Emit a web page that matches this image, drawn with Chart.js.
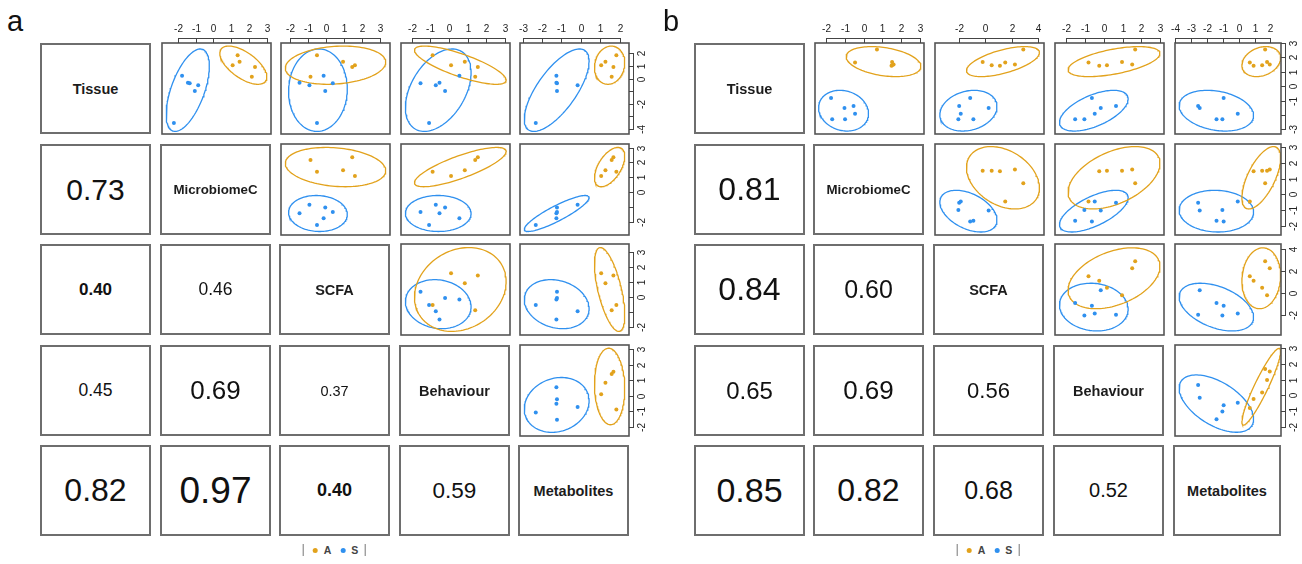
<!DOCTYPE html>
<html>
<head>
<meta charset="utf-8">
<title>Block component plots</title>
<script src="https://cdn.jsdelivr.net/npm/chart.js@4.4.1/dist/chart.umd.min.js"></script>
<style>
    html, body { margin: 0; padding: 0; background: #fff; }
    body {
        position: relative; width: 1302px; height: 564px; overflow: hidden;
        font-family: "Liberation Sans", Arial, Helvetica, sans-serif; color: #111;
    }
    .cell {
        position: absolute; box-sizing: border-box; border: 2px solid #6e6e6e;
        display: flex; align-items: center; justify-content: center;
    }
    .diag { font-weight: bold; font-size: 14.5px; color: #1c1c1c; }
    canvas { position: absolute; }
    .tag { position: absolute; font-size: 29px; line-height: 29px; color: #111; }
    .legend {
        position: absolute; height: 14px; display: flex; align-items: center;
        font-size: 10.5px; font-weight: bold; color: #444; transform: translateX(-50%);
    }
    .legend .bar { width: 1px; height: 12px; background: #777; }
    .legend .dot { width: 5px; height: 5px; border-radius: 50%; margin: 0 6px 0 9px; }
</style>
</head>
<body>
<script>
const blocks = ["Tissue", "MicrobiomeC", "SCFA", "Behaviour", "Metabolites"];
const groups = ["A", "S"];
const groupColors = ["#e2a21c", "#2f90ef"];

// panel a: component 1 of each block, group A (5 samples) and group S (6 samples)
const aTissueA = [1.85, 1.35, 1.06, 0.93, 0.16];
const aMicroA = [1.36, 1.47, 1.08, 2.34, 2.16];
const aScfaA = [-0.50, 0.95, 1.61, 1.46, -0.86];
const aBehavA = [-0.88, 0.85, 0.11, 1.55, 1.41];
const aMetabA = [1.82, 1.26, 1.04, 1.67, 1.58];
const aTissueS = [0.24, -0.32, -0.37, -0.53, -0.98, -3.52];
const aMicroS = [-1.77, -1.44, -1.34, -0.86, -1.05, -2.23];
const aScfaS = [-0.13, -1.47, 0.38, -0.92, -0.04, -0.50];
const aBehavS = [0.56, -0.51, -1.53, -0.71, -0.21, -1.07];
const aMetabS = [-1.26, -1.26, -1.23, -0.17, -1.23, -2.32];

// panel b
const bTissueA = [2.55, 1.67, 1.46, 1.41, 1.64, 1.50];
const bMicroA = [0.71, 1.51, 1.51, 1.48, -0.45, 1.59];
const bScfaA = [2.87, -0.19, 0.49, 1.11, 1.51, 2.24];
const bBehavA = [1.67, 0.97, 0.17, -0.24, -0.81, 1.51];
const bMetabA = [1.67, 1.79, 1.48, 0.94, 0.70, 1.96];
const bTissueS = [-0.82, -1.38, -1.53, -1.92, -2.30, -2.30];
const bMicroS = [-1.72, -0.53, -1.01, -0.45, -0.98, -1.66];
const bScfaS = [-1.13, -1.96, 0.26, -1.84, -2.02, -0.89];
const bBehavS = [-0.63, 0.65, -0.16, -0.48, -1.03, -1.52];
const bMetabS = [-0.95, -2.56, -2.46, -0.06, -1.03, -1.40];

// correlations, lower triangle read row by row
const aCor = [0.73, 0.40, 0.46, 0.45, 0.69, 0.37, 0.82, 0.97, 0.40, 0.59];
const bCor = [0.81, 0.84, 0.60, 0.65, 0.69, 0.56, 0.85, 0.82, 0.68, 0.52];

// axis limits and ticks per block
const aLimits = [[-4.39, 2.83], [-2.9, 3.24], [-2.5, 3.56], [-2.58, 3.28], [-3.13, 2.47]];
const bLimits = [[-3.33, 3.0], [-2.57, 3.2], [-3.78, 4.43], [-2.59, 3.2], [-4.02, 2.67]];
const aTicks = [[-4, -3, -2, -1, 0, 1, 2], [-2, -1, 0, 1, 2, 3], [-2, -1, 0, 1, 2, 3], [-2, -1, 0, 1, 2, 3], [-3, -2, -1, 0, 1, 2]];
const bTicks = [[-3, -2, -1, 0, 1, 2, 3], [-2, -1, 0, 1, 2, 3], [-2, 0, 2, 4], [-2, -1, 0, 1, 2, 3], [-4, -3, -2, -1, 0, 1, 2]];
const aRightLabels = [[-4, -2, 0, 1, 2], [-2, 0, 1, 2, 3], [-2, 0, 1, 2, 3], [-2, -1, 0, 1, 2, 3], []];
const bRightLabels = [[-3, -1, 0, 1, 2, 3], [-2, -1, 0, 1, 2, 3], [-2, 0, 2, 4], [-2, -1, 0, 1, 2, 3], []];

// text styling of the diagonal and correlation cells
const diagSize = [14.5, 13.3, 14.5, 14.5, 14.5];
const aCorSize = [30, 17, 17.5, 17.5, 26, 14.5, 32, 37, 18, 22.5];
const aCorBold = [false, true, false, false, false, false, false, false, true, false];
const bCorSize = [32, 32, 25, 24, 26, 22, 34, 32, 25, 20];
const bCorBold = [false, false, false, false, false, false, false, false, false, false];

const ROW_TOP = [43, 144, 244, 345, 445];
const CELL_H = 91;
const PAD_T = 34, PAD_R = 30;

const panels = [
    {
        tag: "a", tagX: 7, legendX: 334,
        cols: [40, 160, 279, 399, 518], widths: [111, 111, 111, 111, 111],
        A: [aTissueA, aMicroA, aScfaA, aBehavA, aMetabA],
        S: [aTissueS, aMicroS, aScfaS, aBehavS, aMetabS],
        limits: aLimits, ticks: aTicks, rightLabels: aRightLabels,
        cor: aCor, corSize: aCorSize, corBold: aCorBold
    },
    {
        tag: "b", tagX: 663, legendX: 988,
        cols: [694, 813, 933, 1053, 1173], widths: [111, 111, 111, 111, 108],
        A: [bTissueA, bMicroA, bScfaA, bBehavA, bMetabA],
        S: [bTissueS, bMicroS, bScfaS, bBehavS, bMetabS],
        limits: bLimits, ticks: bTicks, rightLabels: bRightLabels,
        cor: bCor, corSize: bCorSize, corBold: bCorBold
    }
];

// 95% confidence ellipse of a group (same construction as the ellipse package)
function ellipse(xs, ys) {
    const n = xs.length;
    const mx = xs.reduce((s, v) => s + v, 0) / n;
    const my = ys.reduce((s, v) => s + v, 0) / n;
    let sxx = 0, syy = 0, sxy = 0;
    for (let k = 0; k < n; k++) {
        sxx += (xs[k] - mx) ** 2;
        syy += (ys[k] - my) ** 2;
        sxy += (xs[k] - mx) * (ys[k] - my);
    }
    const sx = Math.sqrt(sxx / (n - 1)), sy = Math.sqrt(syy / (n - 1));
    const r = (sxy / (n - 1)) / (sx * sy);
    const d = Math.acos(Math.max(-1, Math.min(1, r)));
    const t = Math.sqrt(5.991465);
    const pts = [];
    for (let k = 0; k <= 120; k++) {
        const a = (2 * Math.PI * k) / 120;
        pts.push({ x: mx + t * sx * Math.cos(a + d / 2), y: my + t * sy * Math.cos(a - d / 2) });
    }
    return pts;
}

// frame + outer axes drawn from the chart's own scales
const frameAxes = {
    id: "frameAxes",
    afterDatasetsDraw(chart, args, opts) {
        const ctx = chart.ctx, a = chart.chartArea;
        ctx.save();
        ctx.strokeStyle = "#555";
        ctx.lineWidth = 1.6;
        ctx.strokeRect(a.left, a.top, a.right - a.left, a.bottom - a.top);
        ctx.lineWidth = 1;
        ctx.strokeStyle = "#444";
        ctx.fillStyle = "#222";
        ctx.font = '10px "Liberation Sans", Arial, sans-serif';
        if (opts.top) {
            const xs = chart.scales.x;
            const px = opts.top.map(v => Math.round(xs.getPixelForValue(v)) + 0.5);
            ctx.beginPath();
            ctx.moveTo(px[0], a.top - 4.5);
            ctx.lineTo(px[px.length - 1], a.top - 4.5);
            px.forEach(p => { ctx.moveTo(p, a.top); ctx.lineTo(p, a.top - 5); });
            ctx.stroke();
            ctx.textAlign = "center";
            ctx.textBaseline = "middle";
            opts.top.forEach((v, k) => ctx.fillText(String(v), px[k], a.top - 14));
        }
        if (opts.right) {
            const ys = chart.scales.y;
            const py = opts.right.map(v => Math.round(ys.getPixelForValue(v)) + 0.5);
            ctx.beginPath();
            ctx.moveTo(a.right + 4.5, py[0]);
            ctx.lineTo(a.right + 4.5, py[py.length - 1]);
            py.forEach(p => { ctx.moveTo(a.right, p); ctx.lineTo(a.right + 5, p); });
            ctx.stroke();
            ctx.textAlign = "center";
            ctx.textBaseline = "middle";
            opts.right.forEach((v, k) => {
                if (!opts.rightLabels.includes(v)) return;
                ctx.save();
                ctx.translate(a.right + 13, py[k]);
                ctx.rotate(-Math.PI / 2);
                ctx.fillText(String(v), 0, 0);
                ctx.restore();
            });
        }
        ctx.restore();
    }
};

function textCell(p, i, j, text, cls, style) {
    const d = document.createElement("div");
    d.className = "cell " + cls;
    d.style.left = p.cols[j] + "px";
    d.style.top = ROW_TOP[i] + "px";
    d.style.width = p.widths[j] + "px";
    d.style.height = CELL_H + "px";
    Object.assign(d.style, style || {});
    d.textContent = text;
    document.body.appendChild(d);
}

function scatterCell(p, i, j) {
    const w = p.widths[j];
    const cv = document.createElement("canvas");
    const W = w + 4 + PAD_R, H = CELL_H + PAD_T + 4;
    cv.width = W; cv.height = H;
    cv.style.width = W + "px"; cv.style.height = H + "px";
    cv.style.left = (p.cols[j] - 2) + "px";
    cv.style.top = (ROW_TOP[i] - PAD_T) + "px";
    document.body.appendChild(cv);

    const datasets = [];
    groups.forEach((g, gi) => {
        const xs = p[g][j], ys = p[g][i];
        datasets.push({
            data: ellipse(xs, ys), showLine: true, borderColor: groupColors[gi],
            borderWidth: 1.3, pointRadius: 0, fill: false, tension: 0, order: 2
        });
        datasets.push({
            data: xs.map((x, k) => ({ x: x, y: ys[k] })),
            backgroundColor: groupColors[gi], borderWidth: 0, pointRadius: 2, order: 1
        });
    });

    new Chart(cv.getContext("2d"), {
        type: "scatter",
        data: { datasets: datasets },
        options: {
            responsive: false, animation: false, devicePixelRatio: 1, events: [],
            layout: { padding: { left: 2, top: PAD_T, right: PAD_R + 2, bottom: 2 } },
            plugins: {
                legend: { display: false }, tooltip: { enabled: false },
                frameAxes: {
                    top: i === 0 ? p.ticks[j] : null,
                    right: j === 4 ? p.ticks[i] : null,
                    rightLabels: p.rightLabels[i]
                }
            },
            scales: {
                x: { type: "linear", display: false, min: p.limits[j][0], max: p.limits[j][1] },
                y: { type: "linear", display: false, min: p.limits[i][0], max: p.limits[i][1] }
            }
        },
        plugins: [frameAxes]
    });
}

panels.forEach(p => {
    const tag = document.createElement("div");
    tag.className = "tag";
    tag.style.left = p.tagX + "px";
    tag.style.top = "7px";
    tag.textContent = p.tag;
    document.body.appendChild(tag);

    let k = 0;
    for (let i = 0; i < 5; i++) {
        for (let j = 0; j < 5; j++) {
            if (i === j) {
                textCell(p, i, j, blocks[i], "diag", { fontSize: diagSize[i] + "px" });
            } else if (j < i) {
                textCell(p, i, j, p.cor[k].toFixed(2), "corr", {
                    fontSize: p.corSize[k] + "px",
                    fontWeight: p.corBold[k] ? "bold" : "normal"
                });
                k++;
            } else {
                scatterCell(p, i, j);
            }
        }
    }

    const lg = document.createElement("div");
    lg.className = "legend";
    lg.style.left = p.legendX + "px";
    lg.style.top = "543px";
    let inner = '<span class="bar"></span>';
    groups.forEach((g, gi) => {
        inner += '<span class="dot" style="background:' + groupColors[gi] + '"></span><span>' + g + "</span>";
    });
    inner += '<span class="bar" style="margin-left:6px"></span>';
    lg.innerHTML = inner;
    document.body.appendChild(lg);
});
</script>
</body>
</html>
